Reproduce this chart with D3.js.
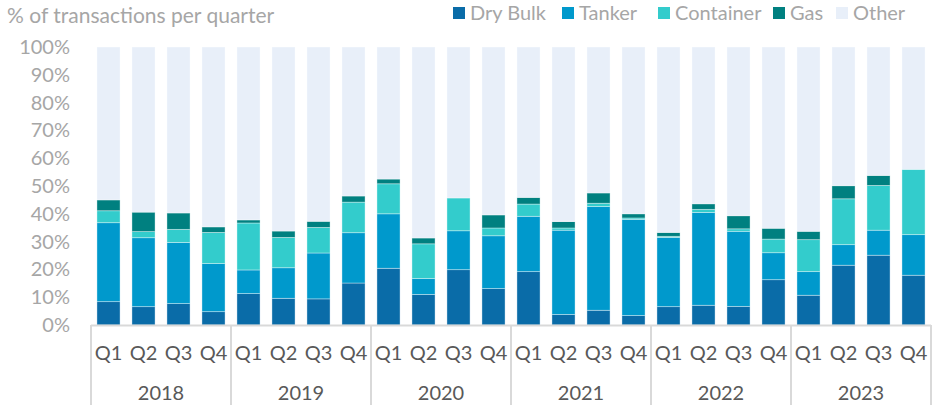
<!DOCTYPE html>
<html>
<head>
<meta charset="utf-8">
<script src="https://cdn.jsdelivr.net/npm/d3@7"></script>
<style>
    body { margin: 0; background: #fff; }
    svg { font-family: Lato, "Open Sans", sans-serif; }
</style>
</head>
<body>
<svg id="chart" width="937" height="405"></svg>
<script>
const years = ["2018", "2019", "2020", "2021", "2022", "2023"];
const quarters = ["Q1", "Q2", "Q3", "Q4"];
const seriesNames = ["Dry Bulk", "Tanker", "Container", "Gas", "Other"];
const seriesColors = ["#0a6ca8", "#0099cc", "#33cccc", "#008080", "#e8eff9"];

// percentages per quarter, 2018 Q1 .. 2023 Q4
const dryBulk   = [8.4, 6.6, 7.7, 4.8, 11.3, 9.6, 9.4, 15.1, 20.4, 11.0, 19.9, 13.1, 19.2, 3.8, 5.3, 3.4, 6.6, 7.1, 6.7, 16.3, 10.7, 21.5, 25.1, 17.9];
const tanker    = [28.4, 24.8, 22.0, 17.3, 8.5, 11.0, 16.5, 18.1, 19.6, 5.7, 14.0, 19.0, 19.9, 30.3, 37.3, 34.6, 24.9, 33.4, 27.0, 9.7, 8.5, 7.4, 9.0, 14.6];
const container = [4.3, 2.2, 4.7, 11.2, 16.9, 10.9, 9.2, 11.0, 10.8, 12.5, 11.8, 2.8, 4.4, 0.8, 1.2, 0.5, 0.4, 1.1, 0.9, 4.9, 11.5, 16.5, 16.1, 23.5];
const gas       = [3.9, 7.0, 5.9, 2.0, 1.1, 2.3, 2.2, 2.2, 1.7, 2.1, 0.0, 4.7, 2.4, 2.3, 3.7, 1.5, 1.4, 2.0, 4.7, 3.9, 3.0, 4.7, 3.6, 0.0];

const width = 937, height = 405;
const margin = { left: 91, right: 6, top: 47, bottom: 80 };
const plotBottom = height - margin.bottom;

const labels = [];
years.forEach(y => quarters.forEach(q => labels.push({ year: y, quarter: q })));

const rows = labels.map((d, i) => {
    const row = { i: i, "Dry Bulk": dryBulk[i], "Tanker": tanker[i], "Container": container[i], "Gas": gas[i] };
    row["Other"] = 100 - dryBulk[i] - tanker[i] - container[i] - gas[i];
    return row;
});

const svg = d3.select("#chart");

const x = d3.scaleBand()
    .domain(d3.range(labels.length))
    .range([margin.left, width - margin.right])
    .paddingInner(0.34)
    .paddingOuter(0.17);

const y = d3.scaleLinear()
    .domain([0, 100])
    .range([plotBottom, margin.top]);

const stacked = d3.stack().keys(seriesNames)(rows);
const color = d3.scaleOrdinal().domain(seriesNames).range(seriesColors);

// y axis labels
svg.append("g")
    .selectAll("text")
    .data(d3.range(0, 101, 10))
    .join("text")
    .attr("x", 70)
    .attr("y", d => y(d))
    .attr("dy", "0.35em")
    .attr("text-anchor", "end")
    .attr("fill", "#a6a6a6")
    .attr("font-size", 20)
    .text(d => d + "%");

// bars
svg.append("g")
    .selectAll("g")
    .data(stacked)
    .join("g")
    .attr("fill", d => color(d.key))
    .selectAll("rect")
    .data(d => d)
    .join("rect")
    .attr("x", d => x(d.data.i))
    .attr("y", d => y(d[1]))
    .attr("width", x.bandwidth())
    .attr("height", d => Math.max(0, y(d[0]) - y(d[1])))
    .attr("stroke", "#ffffff")
    .attr("stroke-opacity", 0.45)
    .attr("stroke-width", 0.8);

// x axis line and year separators
const step = x.step();
svg.append("line")
    .attr("x1", margin.left).attr("x2", margin.left + step * labels.length)
    .attr("y1", plotBottom + 0.5).attr("y2", plotBottom + 0.5)
    .attr("stroke", "#d9d9d9").attr("stroke-width", 2);

svg.append("g")
    .selectAll("line")
    .data(d3.range(years.length + 1))
    .join("line")
    .attr("x1", d => margin.left + d * 4 * step)
    .attr("x2", d => margin.left + d * 4 * step)
    .attr("y1", plotBottom)
    .attr("y2", height)
    .attr("stroke", "#d9d9d9")
    .attr("stroke-width", 2);

// quarter labels
svg.append("g")
    .selectAll("text")
    .data(labels)
    .join("text")
    .attr("x", (d, i) => x(i) + x.bandwidth() / 2)
    .attr("y", 353)
    .attr("dy", "0.35em")
    .attr("text-anchor", "middle")
    .attr("fill", "#595959")
    .attr("font-size", 20)
    .text(d => d.quarter);

// year labels
svg.append("g")
    .selectAll("text")
    .data(years)
    .join("text")
    .attr("x", (d, i) => margin.left + (i * 4 + 2) * step)
    .attr("y", 393)
    .attr("dy", "0.35em")
    .attr("text-anchor", "middle")
    .attr("fill", "#595959")
    .attr("font-size", 20)
    .text(d => d);

// subtitle
svg.append("text")
    .attr("x", 7)
    .attr("y", 16)
    .attr("dy", "0.35em")
    .attr("fill", "#a6a6a6")
    .attr("font-size", 21)
    .text("% of transactions per quarter");

// legend
const legendX = [453, 562, 658, 773, 836];
const legend = svg.append("g")
    .selectAll("g")
    .data(seriesNames)
    .join("g")
    .attr("transform", (d, i) => `translate(${legendX[i]},13)`);

legend.append("rect")
    .attr("x", 0).attr("y", -6)
    .attr("width", 12).attr("height", 12)
    .attr("fill", d => color(d));

legend.append("text")
    .attr("x", 17)
    .attr("dy", "0.35em")
    .attr("fill", "#a6a6a6")
    .attr("font-size", 20)
    .text(d => d);
</script>
</body>
</html>
